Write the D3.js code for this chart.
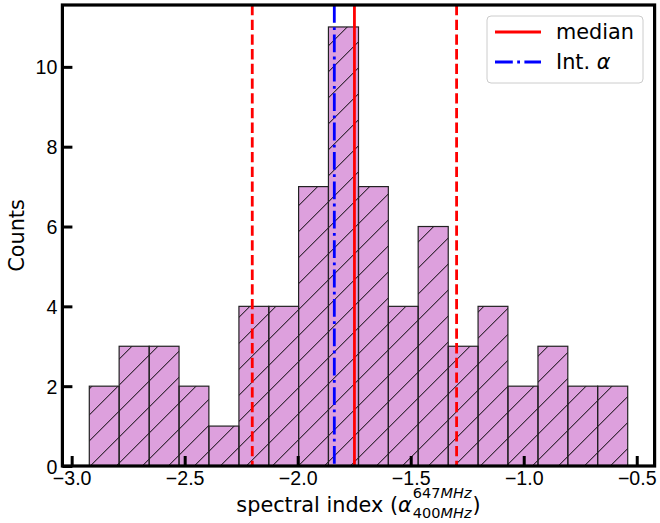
<!DOCTYPE html>
<html>
<head>
<meta charset="utf-8">
<script src="https://cdn.jsdelivr.net/npm/d3@7"></script>
<style>
  html, body { margin: 0; padding: 0; background: #fff; }
  svg { display: block; font-family: "DejaVu Sans", sans-serif; }
</style>
</head>
<body>
<svg id="chart" width="660" height="523"></svg>
<script>
// Histogram of spectral indices
const binEdges = [-2.922, -2.790, -2.657, -2.525, -2.393, -2.260, -2.128, -1.996,
                  -1.864, -1.731, -1.599, -1.467, -1.334, -1.202, -1.070, -0.937,
                  -0.805, -0.673, -0.540];
const counts = [2, 3, 3, 2, 1, 4, 4, 7, 11, 7, 4, 6, 3, 4, 2, 3, 2, 2];

// Reference lines
const medianValue = -1.749;
const percentileValues = [-2.201, -1.297];
const intAlpha = -1.838;

const xTicks = [-3.0, -2.5, -2.0, -1.5, -1.0, -0.5];
const yTicks = [0, 2, 4, 6, 8, 10];
const legendLabels = ["median", "Int. α"];

const svg = d3.select("#chart");
const plotLeft = 62.4, plotRight = 654.6, plotTop = 5, plotBottom = 466;

const x = d3.scaleLinear().domain([-3.041, -0.421]).range([plotLeft, plotRight]);
const y = d3.scaleLinear().domain([0, 11.55]).range([plotBottom, plotTop]);

const bins = counts.map((c, i) => ({ x0: binEdges[i], x1: binEdges[i + 1], count: c }));

// hatch pattern "/"
const P = 26;
const defs = svg.append("defs");
const pat = defs.append("pattern")
  .attr("id", "hatch")
  .attr("patternUnits", "userSpaceOnUse")
  .attr("width", P).attr("height", P)
  .attr("x", 0).attr("y", 10.3);
pat.append("path")
  .attr("d", `M0,${P} L${P},0 M${-P/2},${P/2} L${P/2},${-P/2} M${P/2},${1.5*P} L${1.5*P},${P/2}`)
  .attr("stroke", "#000").attr("stroke-width", 1).attr("fill", "none");

const plot = svg.append("g");

plot.selectAll("rect.bar").data(bins).join("rect")
  .attr("class", "bar")
  .attr("x", d => x(d.x0))
  .attr("y", d => y(d.count))
  .attr("width", d => x(d.x1) - x(d.x0))
  .attr("height", d => y(0) - y(d.count))
  .attr("fill", "#dda0dd");

plot.selectAll("rect.hatch").data(bins).join("rect")
  .attr("class", "hatch")
  .attr("x", d => x(d.x0))
  .attr("y", d => y(d.count))
  .attr("width", d => x(d.x1) - x(d.x0))
  .attr("height", d => y(0) - y(d.count))
  .attr("fill", "url(#hatch)")
  .attr("stroke", "#222")
  .attr("stroke-width", 1.2);

// vertical reference lines
const lw = 2.8;
plot.selectAll("line.pct").data(percentileValues).join("line")
  .attr("class", "pct")
  .attr("x1", d => x(d)).attr("x2", d => x(d))
  .attr("y1", plotTop).attr("y2", plotBottom)
  .attr("stroke", "#ff0000").attr("stroke-width", lw)
  .attr("stroke-dasharray", "10.3,4.4");

plot.append("line")
  .attr("x1", x(intAlpha)).attr("x2", x(intAlpha))
  .attr("y1", plotTop).attr("y2", plotBottom)
  .attr("stroke", "#0000ff").attr("stroke-width", lw)
  .attr("stroke-dasharray", "17.8,4.4,2.8,4.4");

plot.append("line")
  .attr("x1", x(medianValue)).attr("x2", x(medianValue))
  .attr("y1", plotTop).attr("y2", plotBottom)
  .attr("stroke", "#ff0000").attr("stroke-width", lw);

// axes: inward ticks
const tickFont = 19.6;
const xAxis = d3.axisBottom(x).tickValues(xTicks).tickSize(-10).tickPadding(0)
  .tickFormat(d => d3.format(".1f")(d).replace("-", "\u2212"));
const gx = svg.append("g").attr("transform", `translate(0,${plotBottom})`).call(xAxis);
gx.select(".domain").remove();
gx.selectAll(".tick line").attr("stroke", "#000").attr("stroke-width", 3);
gx.selectAll(".tick text").attr("font-size", tickFont).attr("fill", "#000")
  .attr("dy", null).attr("y", 19);

const yAxis = d3.axisLeft(y).tickValues(yTicks).tickSize(-10).tickPadding(0)
  .tickFormat(d3.format("d"));
const gy = svg.append("g").attr("transform", `translate(${plotLeft},0)`).call(yAxis);
gy.select(".domain").remove();
gy.selectAll(".tick line").attr("stroke", "#000").attr("stroke-width", 3);
gy.selectAll(".tick text").attr("font-size", tickFont).attr("fill", "#000")
  .attr("dy", "0.36em").attr("x", -5);

// frame
svg.append("rect")
  .attr("x", plotLeft).attr("y", plotTop)
  .attr("width", plotRight - plotLeft).attr("height", plotBottom - plotTop)
  .attr("fill", "none").attr("stroke", "#000").attr("stroke-width", 3.2);

// axis labels
const labelFont = 20.8;
svg.append("text")
  .attr("transform", `translate(24,${(plotTop + plotBottom) / 2}) rotate(-90)`)
  .attr("text-anchor", "middle")
  .attr("font-size", labelFont)
  .attr("fill", "#000")
  .text("Counts");

// x label with super/subscript
const xl = svg.append("g");
let cx = 0;
const base = 0;
const t1 = xl.append("text").attr("x", cx).attr("y", base).attr("font-size", labelFont).text("spectral index (");
cx += t1.node().getComputedTextLength();
const ta = xl.append("text").attr("x", cx).attr("y", base).attr("font-size", labelFont)
  .attr("font-style", "italic").text("α");
cx += ta.node().getComputedTextLength() + 1;
const scriptFont = 14.5;
function scriptText(yOff, digits, unit) {
  const t = xl.append("text").attr("x", cx).attr("y", base + yOff).attr("font-size", scriptFont);
  t.append("tspan").text(digits);
  t.append("tspan").attr("font-style", "italic").text(unit);
  return t.node().getComputedTextLength();
}
const wSup = scriptText(-14, "647", "MHz");
const wSub = scriptText(6, "400", "MHz");
cx += Math.max(wSup, wSub) + 1;
const t3 = xl.append("text").attr("x", cx).attr("y", base).attr("font-size", labelFont).text(")");
cx += t3.node().getComputedTextLength();
xl.selectAll("text").attr("fill", "#000");
xl.attr("transform", `translate(${(plotLeft + plotRight) / 2 - cx / 2},512)`);

// legend
const lg = svg.append("g");
lg.append("rect")
  .attr("x", 487).attr("y", 16).attr("width", 156).attr("height", 67)
  .attr("rx", 4).attr("ry", 4)
  .attr("fill", "#fff").attr("fill-opacity", 0.8)
  .attr("stroke", "#cccccc").attr("stroke-width", 1);
const legendItems = [
  { label: legendLabels[0], color: "#ff0000", dash: null, italicTail: false },
  { label: legendLabels[1], color: "#0000ff", dash: "17.8,4.4,2.8,4.4", italicTail: true }
];
legendItems.forEach((it, i) => {
  const ly = 32 + i * 30;
  lg.append("line")
    .attr("x1", 495).attr("x2", 541).attr("y1", ly).attr("y2", ly)
    .attr("stroke", it.color).attr("stroke-width", lw)
    .attr("stroke-dasharray", it.dash);
  const t = lg.append("text").attr("x", 556).attr("y", ly).attr("dy", "0.36em")
    .attr("font-size", labelFont).attr("fill", "#000");
  if (it.italicTail) {
    t.append("tspan").text(it.label.slice(0, -1));
    t.append("tspan").attr("font-style", "italic").text(it.label.slice(-1));
  } else {
    t.text(it.label);
  }
});
</script>
</body>
</html>
